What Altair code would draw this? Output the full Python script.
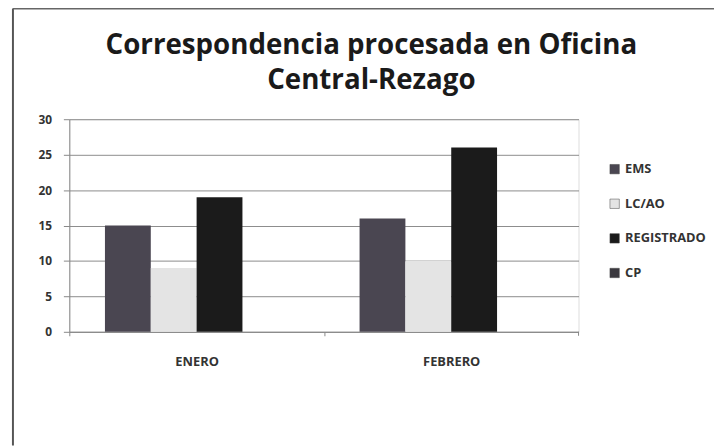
import altair as alt
import pandas as pd

months = ["ENERO", "FEBRERO"]
series = ["EMS", "LC/AO", "REGISTRADO", "CP"]
ems = [15, 16]
lcao = [9, 10]
registrado = [19, 26]
cp = [0, 0]
colors = ["#4a4651", "#e4e4e4", "#1b1b1b", "#3a383e"]

rows = []
for name, vals in zip(series, [ems, lcao, registrado, cp]):
    for m, v in zip(months, vals):
        rows.append({"mes": m, "serie": name, "valor": v})
df = pd.DataFrame(rows)

FONT = "Open Sans"
HALF_STEP = 128.75

bars = alt.Chart(df).mark_bar(strokeWidth=0).encode(
    x=alt.X("mes:N", sort=months,
            scale=alt.Scale(paddingInner=0.28, paddingOuter=0.14),
            axis=alt.Axis(title=None, labelAngle=0, labelFont=FONT, labelFontSize=13,
                          labelFontWeight="bold", labelColor="#333333", labelPadding=20,
                          domainColor="#888888", tickColor="#888888", tickSize=4,
                          tickOffset=-HALF_STEP, labelOffset=HALF_STEP, grid=False)),
    xOffset=alt.XOffset("serie:N", sort=series,
                        scale=alt.Scale(paddingInner=0, paddingOuter=0)),
    y=alt.Y("valor:Q", scale=alt.Scale(domain=[0, 30]),
            axis=alt.Axis(title=None, values=[0, 5, 10, 15, 20, 25, 30],
                          labelFont=FONT, labelFontSize=12, labelFontWeight="bold",
                          labelColor="#333333", labelPadding=12,
                          domainColor="#888888", tickColor="#888888", tickSize=6,
                          gridColor="#8c8c8c", gridWidth=1)),
    color=alt.Color("serie:N", sort=series,
                    scale=alt.Scale(domain=series, range=colors),
                    legend=alt.Legend(title=None, orient="none", legendX=545, legendY=44,
                                      symbolType="square", symbolSize=90,
                                      symbolStrokeColor="#444444", symbolStrokeWidth=0.5,
                                      labelFont=FONT, labelFontSize=13,
                                      labelFontWeight="bold", labelColor="#333333",
                                      rowPadding=21, labelOffset=4)),
)

frame_df = pd.DataFrame({"k": [0]})
left_line = alt.Chart(frame_df).mark_rule(color="#555555", strokeWidth=2).encode(
    x=alt.value(-57), y=alt.value(-112), y2=alt.value(330))
top_line = alt.Chart(frame_df).mark_rule(color="#666666", strokeWidth=2).encode(
    x=alt.value(-57), x2=alt.value(660), y=alt.value(-112))
end_tick = alt.Chart(frame_df).mark_rule(color="#888888", strokeWidth=1).encode(
    x=alt.value(515), y=alt.value(215), y2=alt.value(219))

chart = alt.layer(bars, end_tick, left_line, top_line).properties(
    width=515, height=215,
    autosize="none",
    padding={"left": 62, "top": 110, "right": 137, "bottom": 113},
    title=alt.TitleParams(text=["Correspondencia procesada en Oficina", "Central-Rezago"],
                          font=FONT, fontSize=28, fontWeight="bold", color="#1a1a1a",
                          anchor="middle", dx=48, offset=-88, lineHeight=35),
).configure_view(stroke=None).configure(background="white")

chart.save("out.html", embed_options={"renderer": "svg", "actions": False})
